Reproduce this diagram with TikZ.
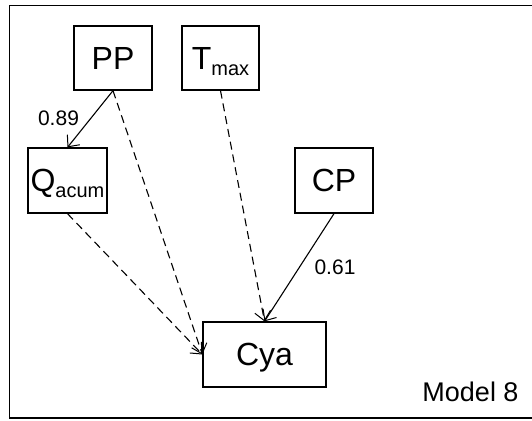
\documentclass[tikz,border=0pt]{standalone}
\usepackage{fontspec}
\setmainfont{Liberation Sans}
\usetikzlibrary{arrows.meta}
\tikzset{
  varbox/.style={draw, line width=1.3pt, inner sep=0pt, text depth=0pt,
    font=\fontsize{32}{32}\selectfont},
  sol/.style={line width=1.1pt, -{Straight Barb[length=9pt,width=16pt,line width=1pt]}},
  dsh/.style={sol, dash pattern=on 8pt off 5pt},
  elab/.style={font=\fontsize{21}{21}\selectfont, inner sep=0pt, text depth=0pt},
}
\newcommand{\subtxt}[1]{\raisebox{-6pt}[0pt][0pt]{\fontsize{20}{20}\selectfont #1}}
\begin{document}
\begin{tikzpicture}[x=1pt,y=-1pt]
\useasboundingbox (0,0) rectangle (532,420);
\begin{scope}
\clip (0,0) rectangle (532,420);
\draw[line width=1.3pt] (9.5,5.5) rectangle (540,418);
\end{scope}
\node[varbox, minimum width=78pt, minimum height=64pt] (PP) at (113,58) {PP};
\node[varbox, minimum width=77pt, minimum height=64pt] (Tmax) at (220.5,58) {T\subtxt{max}};
\node[varbox, minimum width=79pt, minimum height=65pt] (Q) at (67.5,180.5) {Q\subtxt{acum}};
\node[varbox, minimum width=78pt, minimum height=65pt] (CP) at (334,180.5) {CP};
\node[varbox, minimum width=123pt, minimum height=65pt] (Cya) at (264.5,354.5) {Cya};
\draw[sol] (PP.south) -- (Q.north);
\draw[dsh] (PP.south) -- (Cya.west);
\draw[dsh] (Q.south) -- (Cya.west);
\draw[dsh] (Tmax.south) -- (Cya.north);
\draw[sol] (CP.south) -- (Cya.north);
\node[elab] (l1) at (58.5,118) {0.89};
\node[elab] (l2) at (335,267) {0.61};
\node[font=\fontsize{27}{27}\selectfont, inner sep=0pt, text depth=0pt] (m8) at (470.5,392) {Model 8};
\end{tikzpicture}
\end{document}
